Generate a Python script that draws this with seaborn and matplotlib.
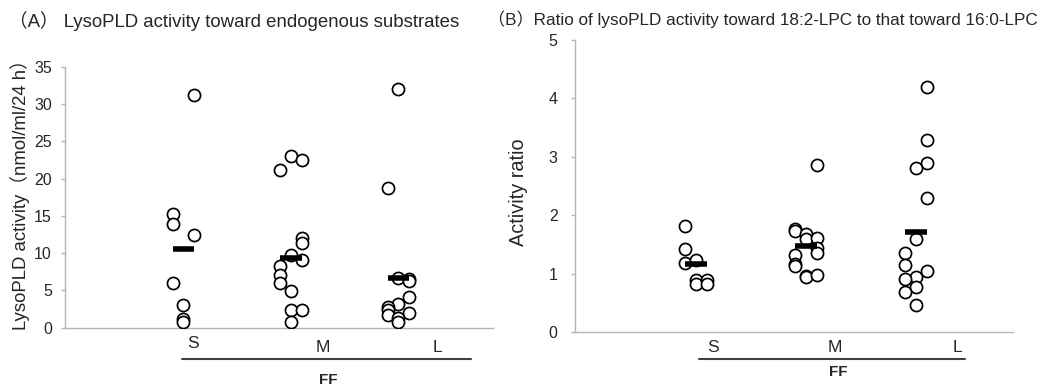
import numpy as np
import pandas as pd
import matplotlib.pyplot as plt
import seaborn as sns

# categories (follicle size)
groups = ['S', 'M', 'L']

# (A) lysoPLD activity toward endogenous substrates, nmol/ml/24 h
act_S = [31.3, 15.3, 13.9, 12.4, 6.0, 3.0, 1.2, 0.8]
act_M = [23.0, 22.5, 21.1, 12.0, 11.4, 9.8, 9.1, 8.3, 7.0, 6.0, 4.9, 2.35, 2.4, 0.8]
act_L = [32.0, 18.8, 6.7, 6.5, 6.3, 4.1, 3.2, 2.7, 2.35, 1.7, 1.9, 1.3, 0.8]
act_mean = [10.5, 9.3, 6.6]
# sub-column of each dot in the dot plot (-1 left, 0 middle, 1 right)
act_S_lane = [1, -1, -1, 1, -1, 0, 0, 0]
act_M_lane = [0, 1, -1, 1, 1, 0, 1, -1, -1, -1, 0, 0, 1, 0]
act_L_lane = [0, -1, 0, 1, 1, 1, 0, -1, -1, -1, 1, 0, 0]

# (B) ratio 18:2-LPC / 16:0-LPC
ratio_S = [1.82, 1.42, 1.19, 1.24, 0.89, 0.83, 0.89, 0.82]
ratio_M = [2.86, 1.76, 1.73, 1.67, 1.59, 1.61, 1.43, 1.35, 1.32, 1.16, 1.13, 0.96, 0.95, 0.98]
ratio_L = [4.20, 3.28, 2.89, 2.80, 2.30, 1.60, 1.36, 1.15, 1.04, 0.95, 0.90, 0.77, 0.68, 0.46]
ratio_mean = [1.16, 1.48, 1.72]
ratio_S_lane = [-1, -1, -1, 0, 0, 0, 1, 1]
ratio_M_lane = [1, -1, -1, 0, 0, 1, 1, 1, -1, -1, -1, 0, 0, 1]
ratio_L_lane = [1, 1, 1, 0, 1, 0, -1, -1, 1, 0, -1, 0, -1, 0]

sns.set_style('white')
plt.rcParams['font.family'] = ['Liberation Sans', 'Noto Sans CJK JP']

W, H = 1041, 388
fig = plt.figure(figsize=(W / 100, H / 100), dpi=100)


def box(l, r, t, b):
    return [l / W, 1 - b / H, (r - l) / W, (b - t) / H]


def fx(px):
    return px / W


def fy(py):
    return 1 - py / H


def panel(ax, cols, lanes, means, ymax, pad):
    df = pd.concat([
        pd.DataFrame({'group': i, 'value': v, 'lane': ln})
        for i, (v, ln) in enumerate(zip(cols, lanes))
    ])
    df['x'] = df['group'] + df['lane'] * 0.1
    sns.scatterplot(data=df, x='x', y='value', ax=ax, s=76, color='white',
                    edgecolor='black', linewidth=1.25, zorder=3)
    idx = np.arange(len(groups))
    ax.hlines(means, idx - 0.1, idx + 0.1, color='black', lw=4, zorder=4)
    ax.set_xlim(-1.1, 2.88)
    ax.set_ylim(0, ymax)
    ax.set_xticks([])
    ax.set_xlabel('')
    ax.set_ylabel('')
    for s in ['top', 'right']:
        ax.spines[s].set_visible(False)
    for s in ['left', 'bottom']:
        ax.spines[s].set_color('#b5b5b5')
        ax.spines[s].set_linewidth(1)
    ax.tick_params(axis='y', length=3, width=1, color='#b5b5b5',
                   labelsize=11.5, pad=pad, left=True)


axA = fig.add_axes(box(65, 493, 67, 327.5))
panel(axA, [act_S, act_M, act_L], [act_S_lane, act_M_lane, act_L_lane],
      act_mean, 35, 6.5)
axA.set_yticks(range(0, 36, 5))

axB = fig.add_axes(box(575, 1013, 40, 332))
panel(axB, [ratio_S, ratio_M, ratio_L], [ratio_S_lane, ratio_M_lane, ratio_L_lane],
      ratio_mean, 5, 9.5)
axB.set_yticks(range(0, 6))

# titles and axis labels
fig.text(fx(9), fy(21), '（A） LysoPLD activity toward endogenous substrates',
         fontsize=13.4, va='center', ha='left')
fig.text(fx(488), fy(19), '（B）Ratio of lysoPLD activity toward 18:2-LPC to that toward 16:0-LPC',
         fontsize=12.3, va='center', ha='left')
fig.text(fx(20), fy(190), 'LysoPLD activity（nmol/ml/24 h）', rotation=90,
         fontsize=13.4, ha='center', va='center')
fig.text(fx(519), fy(192), 'Activity ratio', rotation=90,
         fontsize=14.3, ha='center', va='center')

# category labels, group underline and FF
for xs, ys, x1, x2, ffx, ffy in [([193, 323, 437], [343, 348, 348], 182, 471, 328, 380),
                                 ([713, 835, 957], [348, 348, 348], 699, 965, 838, 372)]:
    for g, gx, gy in zip(groups, xs, ys):
        fig.text(fx(gx), fy(gy), g, fontsize=12.5, ha='center', va='center')
    fig.add_artist(plt.Line2D([fx(x1), fx(x2)], [fy(359), fy(359)],
                              color='#404040', lw=1.5, transform=fig.transFigure))
    fig.text(fx(ffx), fy(ffy), 'FF', fontsize=11, fontweight='bold',
             ha='center', va='center')

fig.savefig('out.png', dpi=100)
